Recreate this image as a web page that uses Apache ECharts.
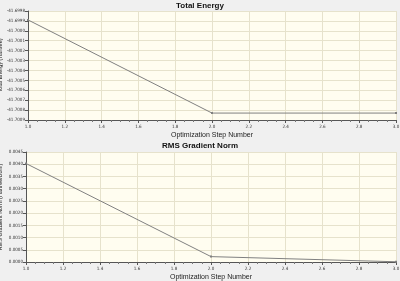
<!DOCTYPE html>
<html><head><meta charset="utf-8">
<script src="https://cdn.jsdelivr.net/npm/echarts@6/dist/echarts.min.js"></script>
<style>html,body{margin:0;padding:0;background:#f0f0f0}#c{width:400px;height:281px}</style>
</head><body><div id="c"></div>
<script>
var steps = [1, 2, 3];
var totalEnergy = [-41.69989, -41.70083, -41.70083];
var rmsGradient = [0.00403, 0.00022, 0.00001];
var titles = ['Total Energy', 'RMS Gradient Norm'];
var yNames = ['Total Energy (Hartree)', 'RMS Gradient Norm (Hartree/Bohr)'];
var xName = 'Optimization Step Number';

function pairs(xs, ys){ return xs.map(function(x,i){return [x, ys[i]];}); }
var font = 'Liberation Sans, Arial, sans-serif';
var narrow = '"Liberation Sans Narrow", "DejaVu Sans Condensed", sans-serif';
var chart = echarts.init(document.getElementById('c'));
var common = {
  lbl: {fontSize: 4.5, color: '#333', fontFamily: narrow},
  split: {show: true, lineStyle: {color: '#e6e2cc', width: 1}}
};
function xAxis(gi){
  return {type:'value', gridIndex:gi, min:1, max:3, interval:0.2,
    axisLine:{lineStyle:{color:'#555'}}, axisTick:{length:3, lineStyle:{color:'#555'}},
    minorTick:{show:true, splitNumber:4, length:2, lineStyle:{color:'#777'}},
    axisLabel:Object.assign({margin:4, formatter:function(v){return v.toFixed(1);}}, common.lbl),
    splitLine:common.split,
    name:xName, nameLocation:'middle', nameGap:12, nameMoveOverlap:false,
    nameTextStyle:{fontSize:7, color:'#222', fontFamily:font}};
}
function yAxis(gi, min, max, interval, dec, nameGap){
  return {type:'value', gridIndex:gi, min:min, max:max, interval:interval,
    axisLine:{show:true, lineStyle:{color:'#555'}}, axisTick:{show:true, length:3, lineStyle:{color:'#555'}},
    axisLabel:Object.assign({margin:3, formatter:function(v){return v.toFixed(dec);}}, common.lbl),
    splitLine:common.split,
    name:yNames[gi], nameLocation:'middle', nameGap:nameGap, nameRotate:90, nameMoveOverlap:false,
    nameTextStyle:{fontSize:5.5, color:'#111', fontFamily:font}};
}
chart.setOption({
  backgroundColor:'#f0f0f0',
  animation:false,
  title:[
    {text:titles[0], left:'center', top:-3, textStyle:{fontSize:8, fontWeight:'bold', color:'#111', fontFamily:font}},
    {text:titles[1], left:'center', top:137, textStyle:{fontSize:8, fontWeight:'bold', color:'#111', fontFamily:font}}
  ],
  grid:[
    {left:28, right:4, top:11, height:109, show:true, backgroundColor:'#fffdf0', borderWidth:0, outerBoundsMode:'none', containLabel:false},
    {left:26, right:4, top:152, height:110, show:true, backgroundColor:'#fffdf0', borderWidth:0, outerBoundsMode:'none', containLabel:false}
  ],
  xAxis:[xAxis(0), xAxis(1)],
  yAxis:[yAxis(0, -41.7009, -41.6998, 0.0001, 4, 25), yAxis(1, 0, 0.0045, 0.0005, 4, 23)],
  series:[
    {type:'line', xAxisIndex:0, yAxisIndex:0, data:pairs(steps,totalEnergy),
      symbol:'rect', symbolSize:2, lineStyle:{color:'#808080', width:1}, itemStyle:{color:'#808080'}},
    {type:'line', xAxisIndex:1, yAxisIndex:1, data:pairs(steps,rmsGradient),
      symbol:'rect', symbolSize:2, lineStyle:{color:'#808080', width:1}, itemStyle:{color:'#808080'}}
  ]
});
</script></body></html>
